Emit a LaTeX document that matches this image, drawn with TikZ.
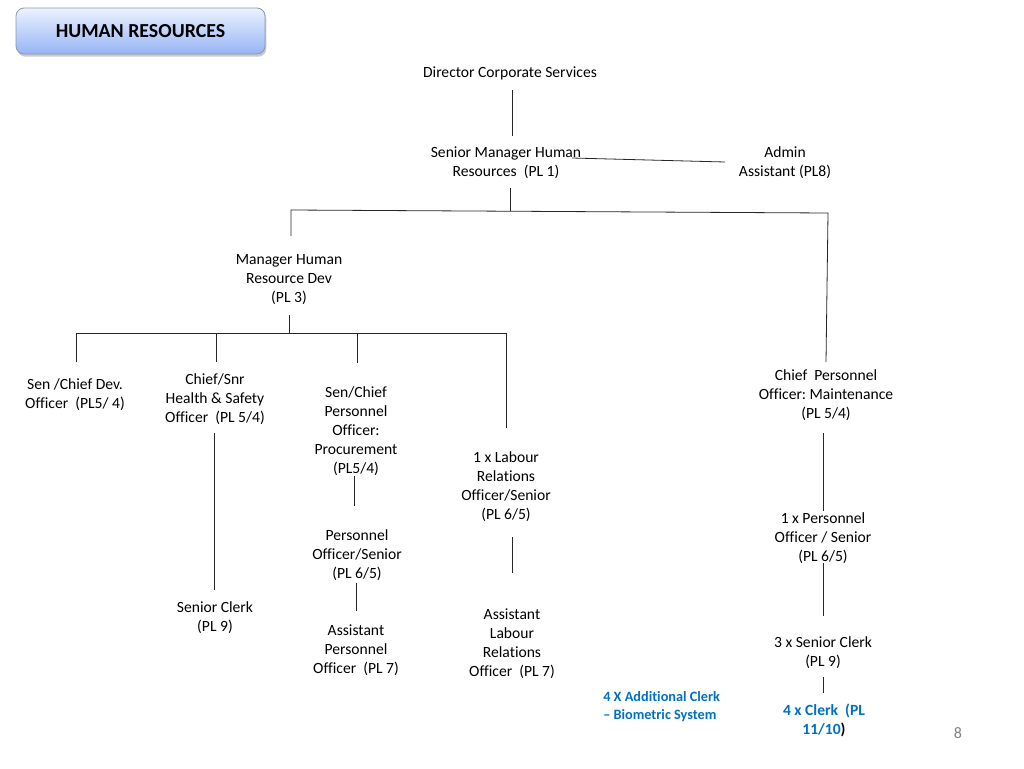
\documentclass[tikz,border=0pt]{standalone}
\usepackage{fontspec}
\setmainfont[Ligatures=CommonOff]{Carlito}
\usetikzlibrary{shadows}
\frenchspacing
\definecolor{hrblue}{RGB}{0,112,192}
\definecolor{titletop}{RGB}{236,242,255}
\definecolor{titlebot}{RGB}{150,180,245}
\definecolor{titleborder}{RGB}{140,150,175}
\tikzset{
  lbl/.style={align=center, inner sep=0pt, font=\fontsize{11.7}{14.2}\selectfont},
  bluelbl/.style={align=center, inner sep=0pt, text=hrblue, font=\fontsize{11.7}{14.2}\selectfont\bfseries},
  conn/.style={line width=0.6pt, black!85},
}
\begin{document}
\begin{tikzpicture}[x=0.75pt, y=-0.75pt]
\useasboundingbox (0,0) rectangle (1024,768);
% title box
\node[draw=titleborder, line width=0.6pt, rounded corners=6pt, top color=titletop, bottom color=titlebot,
      minimum width=249*0.75pt, minimum height=46*0.75pt, inner sep=0pt,
      drop shadow={shadow xshift=1pt, shadow yshift=-2pt, opacity=0.35, fill=black!60},
      font=\fontsize{14.9}{17}\selectfont\bfseries] (title) at (140.5,31) {HUMAN RESOURCES};

\node[lbl] (dir) at (510,73.5) {Director Corporate Services};
\node[lbl] (smhr) at (506,162.5) {Senior Manager Human\\Resources\ \ (PL 1)};
\node[lbl] (admin) at (785,162.5) {Admin\\Assistant (PL8)};
\node[lbl] (mhrd) at (289,279.5) {Manager Human\\Resource Dev\\(PL 3)};
\node[lbl] (dev) at (75,394.5) {Sen /Chief Dev.\\Officer\ \ (PL5/ 4)};
\node[lbl] (hs) at (215,399.5) {Chief/Snr\\Health \& Safety\\Officer\ \ (PL 5/4)};
\node[lbl] (sclerk) at (215,617.5) {Senior Clerk\\(PL 9)};
\node[lbl] (proc) at (356,431) {Sen/Chief\\Personnel\\Officer:\\Procurement\\(PL5/4)};
\node[lbl] (posr) at (357,555.5) {Personnel\\Officer/Senior\\(PL 6/5)};
\node[lbl] (apo) at (356,650.5) {Assistant\\Personnel\\Officer\ \ (PL 7)};
\node[lbl] (lro) at (506,486.5) {1 x Labour\\Relations\\Officer/Senior\\(PL 6/5)};
\node[lbl] (alro) at (512,643.5) {Assistant\\Labour\\Relations\\Officer\ \ (PL 7)};
\node[lbl] (cpom) at (826,395.5) {Chief\ \ Personnel\\Officer: Maintenance\\(PL 5/4)};
\node[lbl] (po) at (823,538) {1 x Personnel\\Officer / Senior\\(PL 6/5)};
\node[lbl] (sc3) at (823,652.5) {3 x Senior Clerk\\(PL 9)};
\node[bluelbl] (clerk4) at (824,720.5) {4 x Clerk\ \ (PL\\11/10\textcolor{black}{)}};
\node[align=left, inner sep=0pt, text=hrblue, font=\fontsize{10.7}{13.5}\selectfont\bfseries, anchor=west] (bio) at (603,706.5) {4 X Additional Clerk\\– Biometric System};
\node[inner sep=0pt, text=black!50, font=\fontsize{12}{14}\selectfont] (pg) at (958,733) {8};

% connector end points
\coordinate (dirS) at (512,90);
\coordinate (smhrN) at (512,136);
\coordinate (smhrE) at (572,158);
\coordinate (adminW) at (725,162);
\coordinate (smhrS) at (510,188);
\coordinate (j1) at (510,211);
\coordinate (j1L) at (291,210);
\coordinate (j1R) at (828,213);
\coordinate (mhrdN) at (291,236);
\coordinate (cpomN) at (826,362);
\coordinate (mhrdS) at (289,315);
\coordinate (j2) at (289,333);
\coordinate (j2L) at (76,333);
\coordinate (j2R) at (506,333);
\coordinate (devN) at (76,362);
\coordinate (hsT) at (216,333);
\coordinate (hsN) at (216,362);
\coordinate (procT) at (357,333);
\coordinate (procN) at (357,363);
\coordinate (lroN) at (506,428);
\coordinate (hsS) at (214,433);
\coordinate (sclerkN) at (214,590);
\coordinate (procS) at (354,476);
\coordinate (posrN) at (354,506);
\coordinate (posrS) at (356,583);
\coordinate (apoN) at (356,611);
\coordinate (lroS) at (512,537);
\coordinate (alroN) at (512,573);
\coordinate (cpomS) at (823,433);
\coordinate (poN) at (823,511);
\coordinate (poS) at (823,563);
\coordinate (sc3N) at (823,616);
\coordinate (sc3S) at (823,677);
\coordinate (clerk4N) at (823,693);

\draw[conn] (dirS) -- (smhrN);
\draw[conn] (smhrE) -- (adminW);
\draw[conn] (smhrS) -- (j1);
\draw[conn] (mhrdN) -- (j1L) -- (j1R) -- (cpomN);
\draw[conn] (mhrdS) -- (j2);
\draw[conn] (devN) -- (j2L) -- (j2R) -- (lroN);
\draw[conn] (hsT) -- (hsN);
\draw[conn] (procT) -- (procN);
\draw[conn] (hsS) -- (sclerkN);
\draw[conn] (procS) -- (posrN);
\draw[conn] (posrS) -- (apoN);
\draw[conn] (lroS) -- (alroN);
\draw[conn] (cpomS) -- (poN);
\draw[conn] (poS) -- (sc3N);
\draw[conn] (sc3S) -- (clerk4N);
\end{tikzpicture}
\end{document}
